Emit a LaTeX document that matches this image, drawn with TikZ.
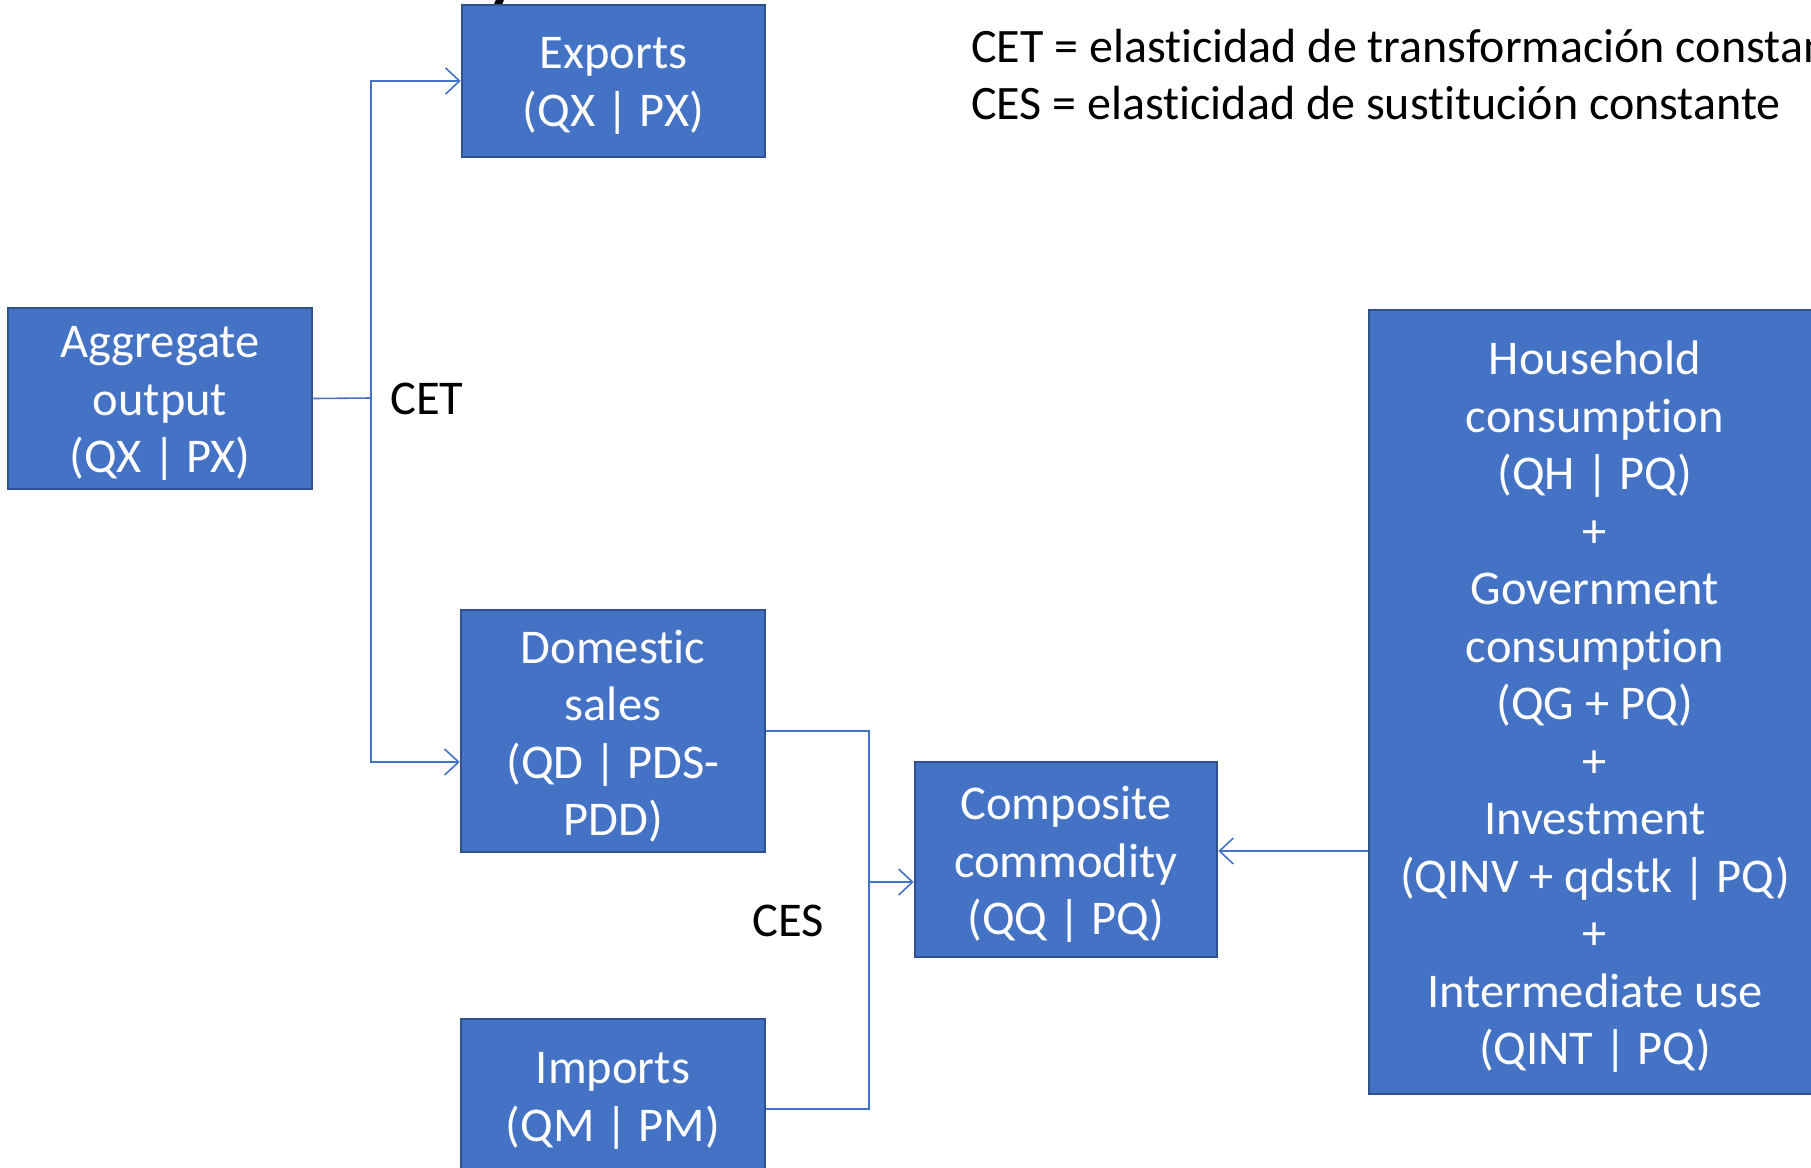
\documentclass[tikz,border=0pt]{standalone}
\usepackage{fontspec}
\setmainfont[Ligatures=NoCommon]{Carlito}
\usetikzlibrary{arrows.meta,calc}
\definecolor{boxblue}{HTML}{4472C4}
\definecolor{boxedge}{HTML}{2F528F}
\begin{document}
\begin{tikzpicture}[x=1pt,y=-1pt,
  box/.style={draw=boxedge, line width=2.5pt, fill=boxblue, inner sep=0pt},
  boxtext/.style={text=white, align=center, inner sep=0pt,
    font=\fontsize{48.5}{57.5}\selectfont},
  link/.style={draw=boxblue, line width=1.6pt},
  tip/.style={-{Straight Barb[length=14pt,width=26pt,line width=1.6pt]}},
  lbl/.style={text=black, inner sep=0pt, font=\fontsize{48.5}{57.5}\selectfont}]
\useasboundingbox (0,0) rectangle (1811,1167);
\clip (0,0) rectangle (1811,1167);

% tail of the slide title
\node[anchor=base west, inner sep=0pt, font=\fontsize{70}{80}\selectfont\bfseries] (ttl) at (486,-4) {y};

% boxes
\node[box, minimum width=304pt, minimum height=181pt] (agg) at (160,398.5) {};
\node[box, minimum width=303pt, minimum height=152pt] (exp) at (613.5,81) {};
\node[box, minimum width=304pt, minimum height=242pt] (dom) at (613,731) {};
\node[box, minimum width=304pt, minimum height=154pt] (imp) at (613,1096) {};
\node[box, minimum width=302pt, minimum height=195pt] (comp) at (1066,859.5) {};
\node[box, minimum width=452pt, minimum height=784pt] (dem) at (1595,702) {};

% box texts
\node[boxtext] (aggT) at ($(agg)+(0,5)$) {Aggregate\\output\\(QX | PX)};
\node[boxtext] (expT) at ($(exp)+(0,5)$) {Exports\\(QX | PX)};
\node[boxtext] (domT) at ($(dom)+(0,5)$) {Domestic\\sales\\(QD | PDS-\\PDD)};
\node[boxtext] (impT) at ($(imp)+(0,5)$) {Imports\\(QM | PM)};
\node[boxtext] (compT) at ($(comp)+(0,5)$) {Composite\\commodity\\(QQ | PQ)};
\node[boxtext] (demT) at ($(dem)+(0,5)$)
  {Household\\consumption\\(QH | PQ)\\+\\Government\\consumption\\(QG + PQ)\\+\\Investment\\(QINV + qdstk | PQ)\\+\\Intermediate use\\(QINT | PQ)};

% labels
\node[lbl, anchor=west] (cet) at (390,399) {CET};
\node[lbl, anchor=west] (ces) at (752,921) {CES};
\node[lbl, anchor=west, align=left, font=\fontsize{48}{57}\selectfont] (note) at (971,74.5)
  {CET = elasticidad de transformación constante\\CES = elasticidad de sustitución constante};

% CET split
\coordinate (jA) at (371,398);
\coordinate (dIn) at ($(dom.west)+(0,31)$);
\draw[link] (agg.east) -- (jA);
\draw[link,tip] (jA) |- (exp.west);
\draw[link,tip] (jA) |- (dIn);

% CES aggregation
\coordinate (jB) at (869,882);
\coordinate (mOut) at ($(imp.east)+(0,13)$);
\draw[link] (dom.east) -| (jB);
\draw[link] (mOut) -| (jB);
\draw[link,tip] (jB) -- (comp.west |- jB);

% demand side
\coordinate (dOut) at ($(dem.west)+(0,149)$);
\draw[link,tip] (dOut) -- (comp.east |- dOut);
\end{tikzpicture}
\end{document}
